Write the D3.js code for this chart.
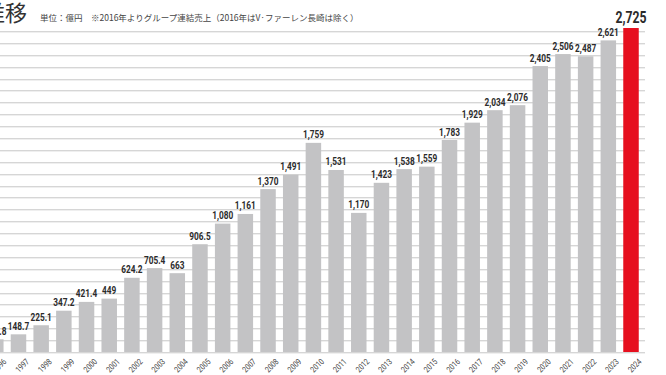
<!DOCTYPE html>
<html>
<head>
<meta charset="utf-8">
<script src="https://cdn.jsdelivr.net/npm/d3@7"></script>
<style>
  body { margin: 0; background: #fff; }
  svg { display: block; }
</style>
</head>
<body>
<div id="chart"></div>
<script>
const svgWidth = 666;
const svgHeight = 375;

// sales, 100M yen
const years = ["1996","1997","1998","1999","2000","2001","2002","2003","2004","2005",
    "2006","2007","2008","2009","2010","2011","2012","2013","2014","2015",
    "2016","2017","2018","2019","2020","2021","2022","2023","2024"];
const sales = [106.8, 148.7, 225.1, 347.2, 421.4, 449, 624.2, 705.4, 663, 906.5,
    1080, 1161, 1370, 1491, 1759, 1531, 1170, 1423, 1538, 1559,
    1783, 1929, 2034, 2076, 2405, 2506, 2487, 2621, 2725];
const labels = ["106.8","148.7","225.1","347.2","421.4","449","624.2","705.4","663","906.5",
    "1,080","1,161","1,370","1,491","1,759","1,531","1,170","1,423","1,538","1,559",
    "1,783","1,929","2,034","2,076","2,405","2,506","2,487","2,621","2,725"];
const gridValues = d3.range(0, 2800, 100);

const titleText = "売上推移";
const noteText = "単位：億円　※2016年よりグループ連結売上（2016年はV·ファーレン長崎は除く）";

const condensed = "'Roboto', 'DejaVu Sans', sans-serif";
const jp = "'Noto Sans CJK JP', sans-serif";

const data = years.map((y, i) => ({year: y, value: sales[i], label: labels[i]}));

let svg = d3.select("#chart")
    .append("svg")
    .attr("width", svgWidth)
    .attr("height", svgHeight);

let xScale = d3.scaleBand()
    .domain(years)
    .range([-15.55, 642.35])
    .paddingInner(0.317)
    .paddingOuter(0.1585);

let yScale = d3.scaleLinear()
    .domain([0, 2800])
    .range([352, 19.1]);

const cx = d => xScale(d.year) + xScale.bandwidth() / 2;

// grid lines (double stroke look)
const grid = svg.append("g").attr("class", "grid");
grid.selectAll("line.g1")
    .data(gridValues)
    .enter()
    .append("line")
    .attr("class", "g1")
    .attr("x1", 0)
    .attr("x2", 645)
    .attr("y1", d => Math.round(yScale(d)) + 0.5)
    .attr("y2", d => Math.round(yScale(d)) + 0.5)
    .attr("stroke", "#d6d6d6");
grid.selectAll("line.g2")
    .data(gridValues)
    .enter()
    .append("line")
    .attr("class", "g2")
    .attr("x1", 0)
    .attr("x2", 645)
    .attr("y1", d => Math.round(yScale(d)) + 1.5)
    .attr("y2", d => Math.round(yScale(d)) + 1.5)
    .attr("stroke", "#efefef");

// bars
svg.selectAll("rect.bar")
    .data(data)
    .enter()
    .append("rect")
    .attr("class", "bar")
    .attr("x", d => xScale(d.year))
    .attr("width", xScale.bandwidth())
    .attr("y", d => yScale(d.value))
    .attr("height", d => yScale(0) - yScale(d.value))
    .attr("fill", d => d.year === "2024" ? "#e60f1e" : "#c3c3c5");

// value labels, squeezed to look condensed
svg.selectAll("text.val")
    .data(data)
    .enter()
    .append("text")
    .attr("class", "val")
    .attr("transform", d => `translate(${cx(d)}, ${yScale(d.value) - (d.year === "2024" ? 5 : 4.5)}) scale(0.72, 1)`)
    .attr("text-anchor", "middle")
    .attr("font-family", condensed)
    .attr("font-weight", "bold")
    .attr("font-size", d => d.year === "2024" ? "17px" : "11.5px")
    .attr("fill", "#2b2b2b")
    .text(d => d.label);

// year labels
svg.selectAll("text.year")
    .data(data)
    .enter()
    .append("text")
    .attr("class", "year")
    .attr("transform", d => `translate(${cx(d) + 7}, 358) rotate(-45) scale(0.8, 1)`)
    .attr("text-anchor", "end")
    .attr("dy", "0.7em")
    .attr("font-family", condensed)
    .attr("font-size", "8.5px")
    .attr("fill", "#444")
    .text(d => d.year);

// header
svg.append("text")
    .attr("x", 27)
    .attr("y", 21)
    .attr("text-anchor", "end")
    .attr("font-family", jp)
    .attr("font-size", "22px")
    .attr("fill", "#333")
    .text(titleText);

svg.append("text")
    .attr("x", 40)
    .attr("y", 21)
    .attr("font-family", jp)
    .attr("font-size", "8.5px")
    .attr("fill", "#444")
    .text(noteText);
</script>
</body>
</html>
